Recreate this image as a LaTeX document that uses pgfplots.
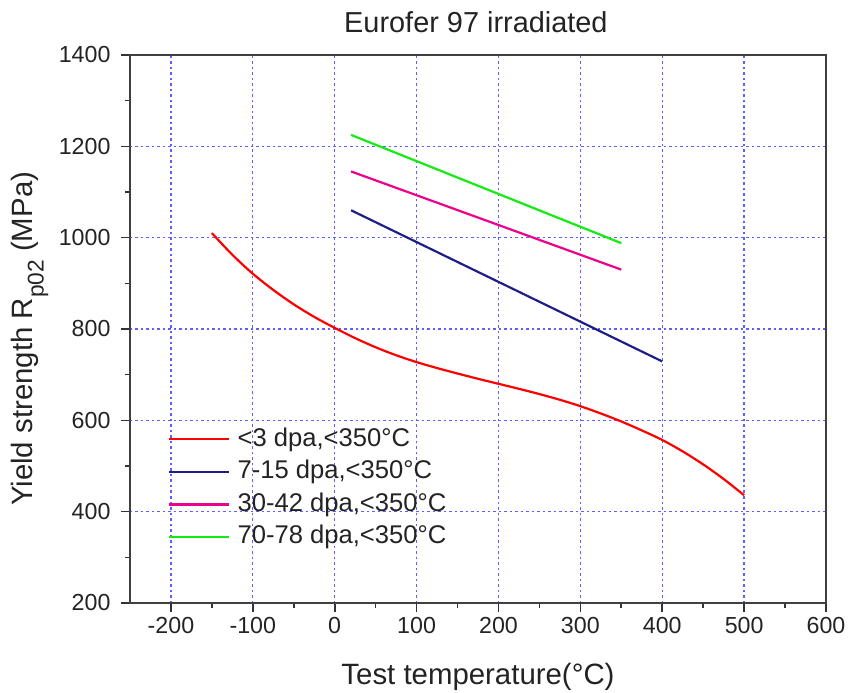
\documentclass[border=0pt]{standalone}
\usepackage{pgfplots}
\pgfplotsset{compat=1.18}
\usepackage{fontspec}
\setmainfont{Liberation Sans}
\definecolor{txt}{RGB}{35,35,35}
\definecolor{gridblue}{RGB}{95,95,255}
\definecolor{navy}{RGB}{30,30,135}
\definecolor{lgreen}{RGB}{20,235,20}
\begin{document}
\begin{tikzpicture}
\begin{axis}[
  at={(0,0)}, anchor=south west,
  scale only axis,
  width=696bp, height=548bp,
  xmin=-250, xmax=600, ymin=200, ymax=1400,
  xtick={-200,-100,...,600}, ytick={200,400,...,1400},
  minor x tick num=1, minor y tick num=1,
  xtick pos=bottom, ytick pos=left,
  tick align=outside,
  major tick length=9bp, minor tick length=5bp,
  tick style={black!80, line width=1.6pt},
  axis line style={black!75, line width=1.8pt},
  grid=major,
  major grid style={gridblue, dash pattern=on 2.5bp off 3bp, line width=1.3pt},
  /pgf/number format/assume math mode=true,
  /pgf/number format/1000 sep={},
  ticklabel style={font=\fontsize{23.3}{26}\selectfont, text=txt},
  yticklabel style={anchor=east, xshift=-7bp},
  xticklabel style={anchor=north, yshift=-2bp},
  title={Eurofer 97 irradiated},
  title style={font=\fontsize{29}{32}\selectfont, text=txt,
    at={(axis description cs:0.497,1.031)}, anchor=base},
  xlabel={Test temperature(°C)},
  ylabel={Yield strength R\raisebox{-11bp}{\fontsize{22.8}{24}\selectfont p02} (MPa)},
  label style={font=\fontsize{29.5}{32}\selectfont, text=txt},
  xlabel style={at={(axis description cs:0.5,-0.1496)}, anchor=base},
  ylabel style={at={(axis description cs:-0.144,0.482)}, anchor=center},
  legend style={at={(axis description cs:0.0546,0.323)}, anchor=north west,
    draw=none, fill=none, inner sep=0pt,
    font=\fontsize{25.7}{28}\selectfont, text=txt, row sep=6.6bp,
    nodes={inner sep=0pt, text height=20bp, text depth=6bp},
    column sep=7bp},
  legend cell align=left,
  legend image code/.code={\draw[#1, line width=2.4pt] (0bp,0bp) -- (60bp,0bp);},
]
\addplot[red, line width=2.2pt, smooth] coordinates {
  (-150,1010) (-125,962.5) (-100,921) (-75,885.5) (-50,854) (-25,826.5) (0,802.5)
  (25,780) (50,760) (75,742.5) (100,727.5) (125,714.5) (150,702.5) (175,691)
  (200,680) (225,669) (250,657.5) (275,645) (300,631) (325,615) (350,597.5)
  (375,578) (400,557) (425,532) (450,503.5) (475,471.5) (500,436)
};
\addlegendentry{<3 dpa,<350°C}
\addplot[navy, line width=2.2pt] coordinates {(20,1060) (400,729)};
\addlegendentry{7-15 dpa,<350°C}
\addplot[magenta, line width=2.2pt] coordinates {(20,1145) (350,930)};
\addlegendentry{30-42 dpa,<350°C}
\addplot[lgreen, line width=2.2pt] coordinates {(20,1225) (350,988)};
\addlegendentry{70-78 dpa,<350°C}
\end{axis}
\pgfresetboundingbox
\path (-130bp,-90bp) rectangle (718bp,603bp);
\end{tikzpicture}
\end{document}
